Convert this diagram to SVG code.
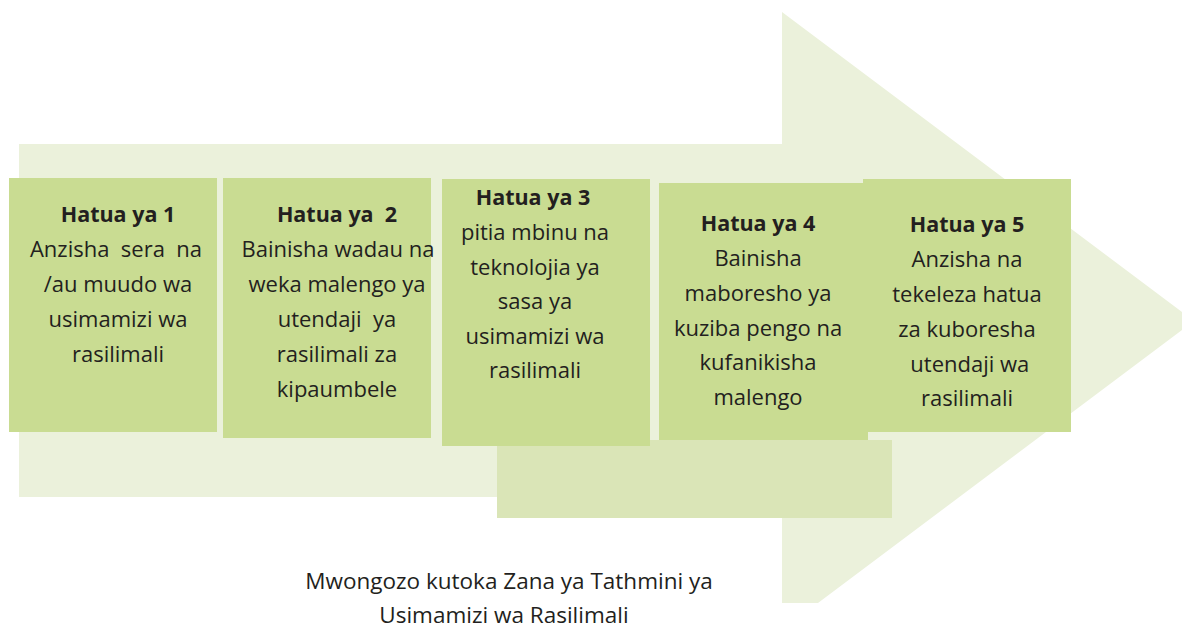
<svg xmlns="http://www.w3.org/2000/svg" width="1182" height="628" viewBox="0 0 1182 628">
<style>
.bg{fill:#ffffff}
.arrow{fill:#ebf1db}
.band{fill:#dae5b7}
.box{fill:#c9dc92}
text{font-family:"Open Sans","Liberation Sans",sans-serif;fill:#231f20;text-anchor:middle;white-space:pre}
.h{font-size:21.5px;font-weight:bold}
.t{font-size:22px}
.f{font-size:22.5px}
</style>
<rect class="bg" x="0" y="0" width="1182" height="628"/>
<g id="arrow">
<polygon class="arrow" points="19,144 782,144 782,12 1194,321 818,603 782,603 782,497 19,497"/>
<rect class="band" x="497" y="440" width="395" height="78"/>
</g>
<g id="step1">
<rect class="box" x="9" y="178" width="208" height="254"/>
<text class="h" x="118" y="222">Hatua ya 1</text>
<text class="t" x="116" y="257">Anzisha  sera  na</text>
<text class="t" x="118" y="292">/au muudo wa</text>
<text class="t" x="118" y="327">usimamizi wa</text>
<text class="t" x="118" y="362">rasilimali</text>
</g>
<g id="step2">
<rect class="box" x="223" y="178" width="208" height="260"/>
<text class="h" x="337" y="222">Hatua ya  2</text>
<text class="t" x="338" y="257">Bainisha wadau na</text>
<text class="t" x="337" y="292">weka malengo ya</text>
<text class="t" x="337" y="327">utendaji  ya</text>
<text class="t" x="337" y="362">rasilimali za</text>
<text class="t" x="337" y="397">kipaumbele</text>
</g>
<g id="step3">
<rect class="box" x="442" y="179" width="208" height="267"/>
<text class="h" x="533" y="205">Hatua ya 3</text>
<text class="t" x="535" y="240">pitia mbinu na</text>
<text class="t" x="535" y="275">teknolojia ya</text>
<text class="t" x="535" y="309">sasa ya</text>
<text class="t" x="535" y="344">usimamizi wa</text>
<text class="t" x="535" y="378">rasilimali</text>
</g>
<g id="step5">
<rect class="box" x="863" y="179" width="208" height="253"/>
<text class="h" x="967" y="232">Hatua ya 5</text>
<text class="t" x="967" y="267">Anzisha na</text>
<text class="t" x="967" y="302">tekeleza hatua</text>
<text class="t" x="967" y="337">za kuboresha</text>
<text class="t" x="967" y="372"> utendaji wa</text>
<text class="t" x="967" y="406">rasilimali</text>
</g>
<g id="step4">
<rect class="box" x="659" y="183" width="209" height="257"/>
<text class="h" x="758" y="231">Hatua ya 4</text>
<text class="t" x="758" y="266">Bainisha</text>
<text class="t" x="758" y="301">maboresho ya</text>
<text class="t" x="758" y="336">kuziba pengo na</text>
<text class="t" x="758" y="370">kufanikisha</text>
<text class="t" x="758" y="405">malengo</text>
</g>
<g id="connectors"></g>
<g id="caption">
<text class="f" x="509" y="589">Mwongozo kutoka Zana ya Tathmini ya</text>
<text class="f" x="504" y="623">Usimamizi wa Rasilimali</text>
</g>
</svg>
